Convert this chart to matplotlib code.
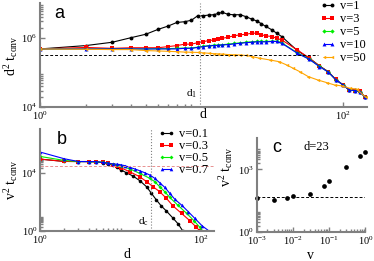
import numpy as np
import matplotlib
matplotlib.use("Agg")
import matplotlib.pyplot as plt
from matplotlib.ticker import FixedLocator, NullFormatter, LogFormatterSciNotation

plt.rcParams["font.family"] = ["Liberation Serif", "DejaVu Serif"]
plt.rcParams["mathtext.fontset"] = "custom"
plt.rcParams["mathtext.rm"] = "Liberation Serif"
plt.rcParams["mathtext.default"] = "regular"

# Panel a: d^2 t_conv vs d ---------------------------------------------
a_d_v1 = [1, 2, 3, 4, 5, 6, 7, 8, 9, 10, 11, 12, 13, 14, 15, 16, 17.5, 19, 21, 23, 25, 27, 29, 31, 34, 36.5,
          39.5, 50, 60, 70, 80, 90, 100, 110, 120, 130, 140]
a_t_v1 = [4.8e5, 6.0e5, 7.5e5, 1.02e6, 1.28e6, 1.76e6, 2.2e6, 2.8e6, 2.95e6, 3.25e6, 4.4e6, 4.4e6, 4.6e6, 4.7e6,
          5.1e6, 5.5e6, 4.8e6, 4.7e6, 4.7e6, 4.1e6, 3.5e6, 3.1e6, 2.56e6, 2.15e6, 1.71e6, 1.37e6, 1.09e6,
          4.3e5, 2.6e5, 1.55e5, 1.05e5, 6.1e4, 4.4e4, 3.1e4, 3.1e4, 2.8e4, 1.9e4]

a_d_v3 = [1, 2, 3, 4, 5, 6, 7, 8, 9, 10, 11, 12, 13, 14, 15, 16, 17.5, 19, 21, 23, 25, 27, 29, 31, 34, 36.5,
          39.5, 50, 60, 70, 80, 90, 100, 110, 120, 130, 140]
a_t_v3 = [4.8e5, 5.3e5, 5.0e5, 5.2e5, 5.2e5, 5.2e5, 5.6e5, 6.0e5, 6.6e5, 6.6e5, 7.3e5, 7.8e5, 8.4e5, 8.7e5,
          9.2e5, 9.8e5, 1.05e6, 1.15e6, 1.23e6, 1.28e6, 1.37e6, 1.37e6, 1.23e6, 1.15e6, 1.1e6, 9.8e5, 8.7e5,
          4.5e5, 2.6e5, 1.55e5, 1.05e5, 6.3e4, 4.4e4, 3.2e4, 3.0e4, 2.9e4, 1.9e4]

a_d_v5 = [1, 2, 3, 4, 5, 6, 7, 8, 9, 10, 11, 12, 13, 14, 15, 16, 17.5, 19, 21, 23, 25, 27, 29, 31, 34, 36.5,
          39.5, 50, 60, 70, 80, 90, 100, 110, 120, 130, 140]
a_t_v5 = [4.8e5, 4.8e5, 4.8e5, 4.8e5, 4.8e5, 4.9e5, 4.9e5, 5.0e5, 5.1e5, 5.1e5, 5.4e5, 5.7e5, 6.0e5, 6.1e5,
          6.2e5, 6.4e5, 6.6e5, 6.9e5, 7.2e5, 7.5e5, 7.7e5, 7.9e5, 7.9e5, 7.9e5, 8.0e5, 8.0e5, 7.2e5,
          3.7e5, 2.45e5, 1.5e5, 1.04e5, 6.1e4, 4.4e4, 3.1e4, 3.0e4, 2.8e4, 1.9e4]

a_d_v10 = [1, 2, 3, 4, 5, 6, 7, 8, 9, 10, 11, 12, 13, 14, 15, 16, 17.5, 19, 21, 23, 25, 27, 29, 31, 34, 36.5,
           39.5, 50, 60, 70, 80, 90, 100, 110, 120, 130, 140]
a_t_v10 = [4.8e5, 4.8e5, 4.8e5, 4.8e5, 4.8e5, 4.8e5, 4.8e5, 4.8e5, 5.0e5, 5.0e5, 5.3e5, 5.6e5, 5.9e5, 6.0e5,
           6.1e5, 6.3e5, 6.4e5, 6.7e5, 7.0e5, 7.3e5, 7.5e5, 7.7e5, 7.7e5, 7.7e5, 7.9e5, 7.9e5, 7.0e5,
           3.6e5, 2.4e5, 1.48e5, 1.03e5, 6.1e4, 4.4e4, 3.1e4, 3.0e4, 2.8e4, 1.9e4]

a_d_v50 = [1, 2, 3, 4, 5, 6, 7, 8, 9, 10, 11, 12, 13, 14, 15, 16, 17.5, 19, 21, 23, 25, 28, 33, 38, 42.5, 47,
           52, 59, 68, 78, 88, 98, 111, 123, 142]
a_t_v50 = [4.8e5, 4.7e5, 4.6e5, 4.6e5, 4.3e5, 4.2e5, 4.1e5, 4.0e5, 3.9e5, 3.85e5, 3.8e5, 3.7e5, 3.6e5, 3.5e5,
           3.45e5, 3.4e5, 3.3e5, 3.25e5, 3.2e5, 3.1e5, 2.9e5, 2.6e5, 2.3e5, 2.05e5, 1.65e5, 1.32e5, 1.05e5,
           7.6e4, 6.1e4, 5.1e4, 4.35e4, 4.1e4, 3.5e4, 3.3e4, 1.9e4]

a_ref_level = 3.2e5
a_ref_dmax = 68
d_1 = 11.4

# Panel b: v^2 t_conv vs d --------------------------------------------
b_d_v01 = [1, 2, 3, 4, 5, 6, 7, 8, 9, 10, 11.8, 14.3, 17.3, 21, 24.1, 27.8, 32, 36.9, 44.8, 51.8, 59]
b_t_v01 = [8.5e4, 5.9e4, 5.8e4, 5.7e4, 5.5e4, 4.8e4, 4.2e4, 3.2e4, 2.3e4, 1.6e4, 9.8e3, 5.8e3, 2.8e3, 1.07e3,
           380, 133, 51, 23.5, 7.4, 3.0, 1.0]

b_d_v03 = [1, 2, 3, 4, 5, 6, 7, 8, 9, 10, 13, 17.3, 21, 25.3, 30.6, 36.9, 44.8, 57, 72, 87, 96]
b_t_v03 = [8.5e4, 5.9e4, 5.8e4, 5.8e4, 5.6e4, 5.0e4, 4.4e4, 3.5e4, 3.0e4, 2.2e4, 1.15e4, 5.2e3, 2.4e3, 1.07e3,
           490, 174, 51, 16, 5.1, 1.8, 1.0]

b_d_v05 = [1, 2, 3, 4, 5, 6, 7, 8, 9, 10, 13, 17.3, 23, 26.5, 30.6, 35.3, 40.7, 51, 66, 81, 96, 103]
b_t_v05 = [1.3e5, 6.9e4, 5.8e4, 5.8e4, 5.6e4, 5.0e4, 4.5e4, 3.7e4, 3.5e4, 2.9e4, 1.8e4, 8.9e3, 4.1e3, 2.4e3,
           1.07e3, 490, 200, 60, 16, 5.1, 1.8, 1.0]

b_d_v07 = [1, 2, 3, 4, 5, 6, 7, 8, 9, 10, 11.3, 13, 15, 17.3, 20, 23, 26.5, 30.6, 35.3, 40.7, 47, 57, 69, 83,
           103, 125]
b_t_v07 = [2.6e5, 9e4, 5.8e4, 5.8e4, 5.7e4, 5.0e4, 4.6e4, 3.9e4, 3.9e4, 3.5e4, 3.0e4, 2.3e4, 1.8e4, 1.35e4,
           9.8e3, 6.9e3, 4.1e3, 2.0e3, 980, 380, 150, 60, 21, 7.4, 2.2, 1.0]

b_ref_level = 2.8e4
d_c = 24

# Panel c: v^2 t_conv vs v at d=23 ------------------------------------
c_v = [0.001, 0.003, 0.007, 0.01, 0.03, 0.07, 0.1, 0.3, 0.7, 1.0]
c_t = [41, 34, 44, 51, 66, 164, 285, 1290, 4330, 6930]
c_ref_level = 49

AXIS_GRAY = "#808080"


def style_axis(ax, xmajor, xminor, ymajor, yminor):
    for side in ("top", "right"):
        ax.spines[side].set_visible(False)
    for side in ("left", "bottom"):
        ax.spines[side].set_color(AXIS_GRAY)
        ax.spines[side].set_linewidth(1.5)
    ax.xaxis.set_major_locator(FixedLocator(xmajor))
    ax.xaxis.set_minor_locator(FixedLocator(xminor))
    ax.yaxis.set_major_locator(FixedLocator(ymajor))
    ax.yaxis.set_minor_locator(FixedLocator(yminor))
    ax.xaxis.set_major_formatter(LogFormatterSciNotation())
    ax.yaxis.set_major_formatter(LogFormatterSciNotation())
    ax.xaxis.set_minor_formatter(NullFormatter())
    ax.yaxis.set_minor_formatter(NullFormatter())
    ax.tick_params(which="both", direction="in", color=AXIS_GRAY, width=1.0,
                   labelsize=7.5, pad=2, top=False, right=False)
    ax.tick_params(which="major", length=3.5)
    ax.tick_params(which="minor", length=2.2)


fig = plt.figure(figsize=(3.74, 2.61), dpi=100)
ax_a = fig.add_axes([0.107, 0.590, 0.874, 0.397])
ax_b = fig.add_axes([0.107, 0.115, 0.464, 0.391])
ax_c = fig.add_axes([0.686, 0.111, 0.291, 0.360])

line_kw = dict(lw=0.8, markeredgewidth=0)

# Panel a
ax_a.plot(a_d_v1, a_t_v1, color="black", marker="o", ms=2.8, label="v=1", **line_kw)
ax_a.plot(a_d_v3, a_t_v3, color="#ff0000", marker="s", ms=2.6, label="v=3", **line_kw)
ax_a.plot(a_d_v5, a_t_v5, color="#00ee00", marker="D", ms=2.2, label="v=5", **line_kw)
ax_a.plot(a_d_v10, a_t_v10, color="#0000ff", marker="^", ms=2.8, label="v=10", **line_kw)
ax_a.plot(a_d_v50, a_t_v50, color="#ffa500", marker="<", ms=2.4, label="v=50", **line_kw)
ax_a.plot([1, a_ref_dmax], [a_ref_level, a_ref_level], color="black", ls=(0, (3, 2)), lw=0.7)
ax_a.axvline(d_1, color=AXIS_GRAY, ls=":", lw=0.8)
ax_a.text(d_1 * 0.95, 2.4e4, r"d$_1$", ha="right", va="center", fontsize=8)
ax_a.set_xscale("log")
ax_a.set_yscale("log")
ax_a.set_xlim(1, 144)
ax_a.set_ylim(1e4, 1e7)
style_axis(ax_a, [1, 100], list(range(2, 11)),
           [1e4, 1e6], [k * 1e4 for k in range(2, 10)] + [k * 1e6 for k in range(2, 10)])
ax_a.set_xlabel("d", fontsize=10, labelpad=-10)
ax_a.set_ylabel(r"d$^{2}$ t$_{conv}$", fontsize=10, labelpad=1)
ax_a.text(0.06, 0.9, "a", transform=ax_a.transAxes, family=["Liberation Sans"],
          fontsize=13, ha="center", va="center")
ax_a.legend(loc="upper left", bbox_to_anchor=(0.858, 1.03), frameon=False, fontsize=9,
            numpoints=2, handlelength=1.25, handletextpad=0.35, labelspacing=0.08,
            borderpad=0, borderaxespad=0)

# Panel b
ax_b.plot(b_d_v01, b_t_v01, color="black", marker="o", ms=2.6, label="v=0.1", **line_kw)
ax_b.plot(b_d_v03, b_t_v03, color="#ff0000", marker="s", ms=2.4, label="v=0.3", **line_kw)
ax_b.plot(b_d_v05, b_t_v05, color="#00ee00", marker="D", ms=2.0, label="v=0.5", **line_kw)
ax_b.plot(b_d_v07, b_t_v07, color="#0000ff", marker="^", ms=2.6, label="v=0.7", **line_kw)
ax_b.axhline(b_ref_level, color="#e89090", ls=(0, (3, 2)), lw=0.7)
ax_b.axvline(d_c, color=AXIS_GRAY, ls=":", lw=0.8)
ax_b.text(d_c * 0.93, 4.5, r"d$_c$", ha="right", va="center", fontsize=8)
ax_b.set_xscale("log")
ax_b.set_yscale("log")
ax_b.set_xlim(1, 142)
ax_b.set_ylim(1, 1e7)
style_axis(ax_b, [1, 100], list(range(2, 11)),
           [1, 1e4], list(range(2, 10)) + [k * 1e4 for k in range(2, 10)])
ax_b.set_xlabel("d", fontsize=10, labelpad=1)
ax_b.set_ylabel(r"v$^{2}$ t$_{conv}$", fontsize=10, labelpad=1)
ax_b.text(0.125, 0.9, "b", transform=ax_b.transAxes, family=["Liberation Sans"],
          fontsize=13, ha="center", va="center")
ax_b.legend(loc="upper left", bbox_to_anchor=(0.68, 1.01), frameon=False, fontsize=9,
            numpoints=2, handlelength=1.3, handletextpad=0.4, labelspacing=0.0,
            borderpad=0, borderaxespad=0)

# Panel c
ax_c.plot(c_v, c_t, ls="none", marker="o", ms=3.4, color="black", markeredgewidth=0, clip_on=False)
ax_c.axhline(c_ref_level, color="black", ls=(0, (3, 2)), lw=0.7)
ax_c.set_xscale("log")
ax_c.set_yscale("log")
ax_c.set_xlim(1e-3, 1)
ax_c.set_ylim(1, 10 ** 4.5)
c_xminor = [k * 10.0 ** e for e in (-3, -2, -1) for k in range(2, 10)]
style_axis(ax_c, [1e-3, 1e-2, 1e-1, 1], c_xminor,
           [1, 1e3], list(range(2, 10)) + [k * 1e3 for k in range(2, 10)])
ax_c.set_xlabel("v", fontsize=10, labelpad=1)
ax_c.set_ylabel(r"v$^{2}$ t$_{conv}$", fontsize=10)
ax_c.yaxis.set_label_coords(-0.2, 0.7)
ax_c.text(0.19, 0.9, "c", transform=ax_c.transAxes, family=["Liberation Sans"],
          fontsize=13, ha="center", va="center")
ax_c.text(0.55, 0.9, "d=23", transform=ax_c.transAxes, fontsize=9, ha="center", va="center")

fig.savefig("out.png", dpi=100)
